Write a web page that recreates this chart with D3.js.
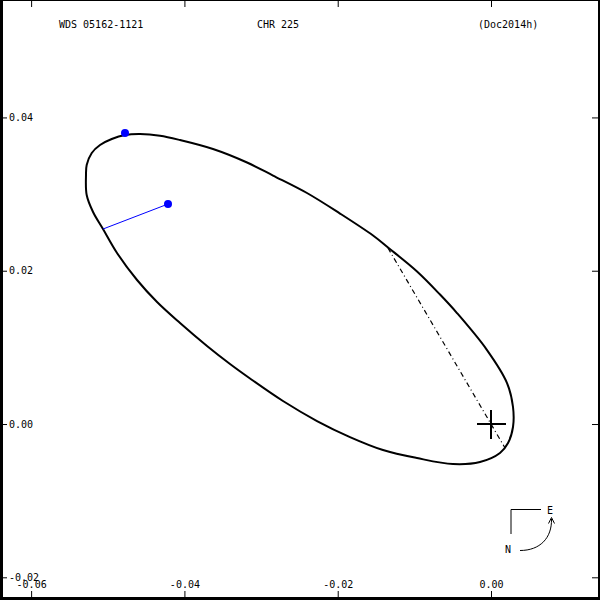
<!DOCTYPE html>
<html>
<head>
<meta charset="utf-8">
<script src="https://cdn.jsdelivr.net/npm/d3@7"></script>
<style>
  body { margin: 0; background: #fff; }
  text { font-family: "DejaVu Sans Mono", monospace; font-size: 10px; fill: #000; }
</style>
</head>
<body>
<div id="chart"></div>
<script>
// Title strings
var titles = ["WDS 05162-1121", "CHR 225", "(Doc2014h)"];

// Tick values
var xTicks = [-0.06, -0.04, -0.02, 0.00];
var yTicks = [-0.02, 0.00, 0.02, 0.04];

// Orbit outline (x, y in arcsec)
var orbitX = [-0.05284, -0.05275, -0.05209, -0.05101, -0.04948, -0.04775, -0.04579, -0.04318,
              -0.04057, -0.03627, -0.03183, -0.02844, -0.02401, -0.01970, -0.01539, -0.01344,
              -0.00965, -0.00665, -0.00444, -0.00052, 0.00209, 0.00287, 0.00287, 0.00222,
              0.00117, -0.00144, -0.00496, -0.00965, -0.01409, -0.01840, -0.02270, -0.02714,
              -0.03144, -0.03405, -0.03705, -0.04057, -0.04357, -0.04618, -0.04879, -0.05062,
              -0.05192, -0.05275];
var orbitY = [0.03249, 0.03379, 0.03536, 0.03640, 0.03718, 0.03770, 0.03783, 0.03761,
              0.03705, 0.03588, 0.03412, 0.03242, 0.03014, 0.02746, 0.02459, 0.02303,
              0.01990, 0.01689, 0.01448, 0.00965, 0.00535, 0.00222, -0.00039, -0.00248,
              -0.00378, -0.00496, -0.00522, -0.00444, -0.00339, -0.00170, 0.00039, 0.00300,
              0.00594, 0.00783, 0.01018, 0.01318, 0.01592, 0.01879, 0.02231, 0.02544,
              0.02766, 0.02988];

// Line of nodes (dash-dot)
var nodeX = [-0.01344, 0.00183];
var nodeY = [0.02296, -0.00313];

// Observations (blue): measured point and predicted point on orbit
var obsX = [-0.04775, -0.04214];
var obsY = [0.03796, 0.02870];
var residX = [-0.04214, -0.05062];
var residY = [0.02870, 0.02544];

var width = 600, height = 600;

var svg = d3.select("#chart").append("svg")
    .attr("width", width)
    .attr("height", height);

// frame: thick left/bottom edges
svg.append("rect").attr("width", width).attr("height", height).attr("fill", "#000");
svg.append("rect").attr("x", 3).attr("y", 1).attr("width", 595).attr("height", 596).attr("fill", "#fff");

var x = d3.scaleLinear().domain([-0.06406, 0.01422]).range([0, width]);
var y = d3.scaleLinear().domain([0.05532, -0.02296]).range([0, height]);

var fmt = function(d) { return d.toFixed(2); };

function styleAxis(g) {
    g.select(".domain").remove();
    g.selectAll("line").attr("stroke", "#000");
    g.selectAll("text").attr("font-family", null).attr("font-size", null).attr("fill", "#000");
}

// bottom axis with labels above the ticks
svg.append("g").attr("transform", "translate(0,597)")
    .call(d3.axisTop(x).tickValues(xTicks).tickSize(6).tickPadding(3).tickFormat(fmt))
    .call(styleAxis);
// top ticks
svg.append("g").attr("transform", "translate(0,1)")
    .call(d3.axisBottom(x).tickValues(xTicks).tickSize(6).tickFormat(""))
    .call(styleAxis);
// left axis with labels inside
svg.append("g").attr("transform", "translate(3,0)")
    .call(d3.axisRight(y).tickValues(yTicks).tickSize(4).tickPadding(2).tickFormat(fmt))
    .call(styleAxis);
// right ticks
svg.append("g").attr("transform", "translate(598,0)")
    .call(d3.axisLeft(y).tickValues(yTicks).tickSize(6).tickFormat(""))
    .call(styleAxis);

// titles
svg.selectAll(".title")
    .data(titles)
    .enter().append("text")
    .attr("class", "title")
    .attr("x", function(d, i) { return [59, 257, 478][i]; })
    .attr("y", 28)
    .text(function(d) { return d; });

// orbit
var orbit = orbitX.map(function(d, i) { return [d, orbitY[i]]; });
var line = d3.line()
    .x(function(d) { return x(d[0]); })
    .y(function(d) { return y(d[1]); })
    .curve(d3.curveCatmullRomClosed);

svg.append("path")
    .attr("d", line(orbit))
    .attr("fill", "none")
    .attr("stroke", "#000")
    .attr("stroke-width", 2);

// line of nodes
svg.append("line")
    .attr("x1", x(nodeX[0])).attr("y1", y(nodeY[0]))
    .attr("x2", x(nodeX[1])).attr("y2", y(nodeY[1]))
    .attr("stroke", "#000")
    .attr("stroke-width", 1.2)
    .attr("stroke-dasharray", "5,3,1,3");

// primary star
var cx = x(0), cy = y(0);
svg.append("line").attr("x1", cx - 14).attr("x2", cx + 15).attr("y1", cy).attr("y2", cy)
    .attr("stroke", "#000").attr("stroke-width", 2);
svg.append("line").attr("x1", cx).attr("x2", cx).attr("y1", cy - 14).attr("y2", cy + 15)
    .attr("stroke", "#000").attr("stroke-width", 2);

// residual line
svg.append("line")
    .attr("x1", x(residX[0])).attr("y1", y(residY[0]))
    .attr("x2", x(residX[1])).attr("y2", y(residY[1]))
    .attr("stroke", "#0000ff")
    .attr("stroke-width", 1);

// observations
svg.selectAll(".obs")
    .data(obsX)
    .enter().append("circle")
    .attr("class", "obs")
    .attr("cx", function(d) { return x(d); })
    .attr("cy", function(d, i) { return y(obsY[i]); })
    .attr("r", 4)
    .attr("fill", "#0000ff");

// compass
var comp = svg.append("g");
comp.append("path").attr("d", "M511,534V509.5H541").attr("fill", "none").attr("stroke", "#000");
comp.append("text").attr("x", 547).attr("y", 514).text("E");
comp.append("text").attr("x", 505).attr("y", 553).text("N");
comp.append("path").attr("d", "M520,550.5C540,550.5 552,538 551.5,519")
    .attr("fill", "none").attr("stroke", "#000");
comp.append("path").attr("d", "M548.5,523.5L551.5,517.5L554.5,523.5")
    .attr("fill", "none").attr("stroke", "#000");
</script>
</body>
</html>
